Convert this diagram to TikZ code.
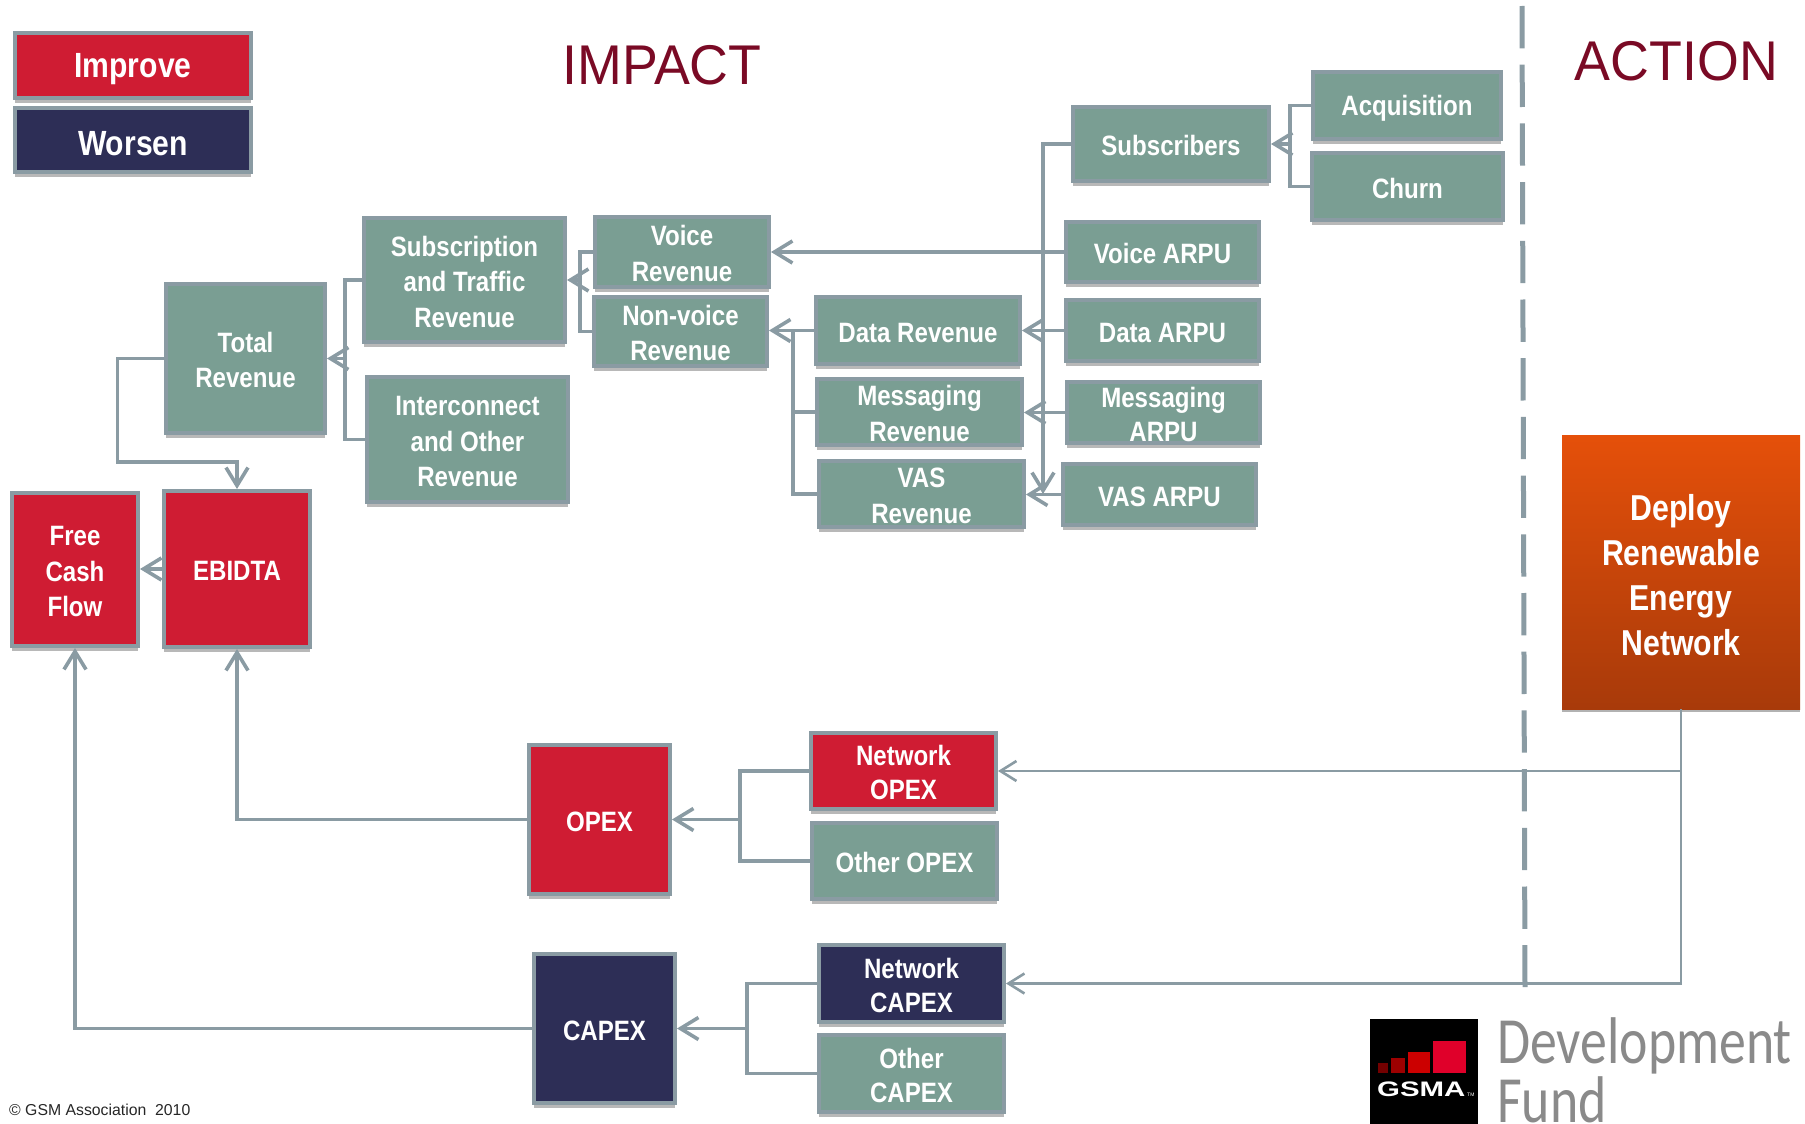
\documentclass[tikz,border=0pt]{standalone}
\usepackage{fontspec}
\setmainfont{Liberation Sans}
\newfontfamily\boxfont{Liberation Sans}[FakeStretch=0.86]
\newfontfamily\deployfont{Liberation Sans}[FakeStretch=0.84]
\newfontfamily\headfont{Liberation Sans}[FakeStretch=0.96]
\newfontfamily\gsmafont{Liberation Sans}[FakeStretch=1.4]
\newfontfamily\logofont{Carlito}[FakeStretch=0.815]
\usetikzlibrary{arrows.meta,shadows}
\definecolor{edgegrey}{HTML}{8A9BA3}
\definecolor{sage}{HTML}{7A9E93}
\definecolor{boxred}{HTML}{CF1C33}
\definecolor{boxnavy}{HTML}{2D2E56}
\definecolor{headred}{HTML}{7A0A25}
\definecolor{logogrey}{HTML}{8A8A8A}
\definecolor{deploytop}{HTML}{E5500A}
\definecolor{deploymid}{HTML}{DE4C0A}
\definecolor{deploybot}{HTML}{A83A0A}
\definecolor{gsmared}{HTML}{E0002A}
\def\boxtop{25pt}\def\boxbot{2pt}
\tikzset{
  basebox/.style={draw=edgegrey,line width=4pt,align=center,text=white,inner sep=0pt,
    font=\boxfont\bfseries\fontsize{28}{35.5}\selectfont,
    drop shadow={shadow xshift=0pt,shadow yshift=-5pt,opacity=.28,fill=black}},
  greenbox/.style={basebox,fill=sage},
  redbox/.style={basebox,fill=boxred},
  navybox/.style={basebox,fill=boxnavy},
  legendbox/.style={font=\boxfont\bfseries\fontsize{35}{40}\selectfont\def\boxtop{32pt}\def\boxbot{2pt}},
  tightbox/.style={font=\boxfont\bfseries\fontsize{28}{34}\selectfont},
  link/.style={draw=edgegrey,line width=3.6pt,line join=miter},
  arrowlink/.style={link,-{Straight Barb[length=18pt,width=22pt]}},
  thinlink/.style={draw=edgegrey,line width=2.6pt},
  thinarrow/.style={thinlink,-{Straight Barb[length=16pt,width=20pt]}},
  heading/.style={text=headred,font=\headfont\fontsize{56}{60}\selectfont,inner sep=0pt},
  logotext/.style={text=logogrey,font=\logofont\fontsize{66}{70}\selectfont,inner sep=0pt,anchor=base west},
}
\newcommand{\bx}[7]{\node[#2,minimum width={#4-#3-4},minimum height={#6-#5-4}] (#1) at ({(#3+#4)/2},{(#5+#6)/2}) {\rule{0pt}{\boxtop}\\[-\baselineskip]#7\rule[-\boxbot]{0pt}{\boxbot}};}
\begin{document}
\begin{tikzpicture}[x=1pt,y=-1pt]
\useasboundingbox (0,0) rectangle (1805,1124);

% boxes
\bx{improve}{redbox,legendbox}{13}{253}{31}{100}{Improve}
\bx{worsen}{navybox,legendbox}{13}{253}{106}{174}{Worsen}
\bx{subtraffic}{greenbox}{362}{567}{216}{344}{Subscription\\and Traffic\\Revenue}
\bx{total}{greenbox}{164}{327}{282}{435}{Total\\Revenue}
\bx{interconnect}{greenbox}{365}{570}{375}{504}{Interconnect\\and Other\\Revenue}
\bx{ebidta}{redbox}{162}{312}{489}{649}{EBIDTA}
\bx{fcf}{redbox}{10}{140}{491}{648}{Free\\Cash\\Flow}
\bx{voicerev}{greenbox}{593}{771}{215}{289}{Voice\\Revenue}
\bx{nonvoice}{greenbox}{592}{769}{295}{368}{Non-voice\\Revenue}
\bx{datarev}{greenbox}{814}{1022}{295}{366}{Data Revenue}
\bx{msgrev}{greenbox}{815}{1024}{377}{447}{Messaging\\Revenue}
\bx{vasrev}{greenbox}{817}{1026}{459}{529}{VAS\\Revenue}
\bx{subs}{greenbox}{1071}{1271}{105}{183}{Subscribers}
\bx{acq}{greenbox}{1311}{1503}{70}{141}{Acquisition}
\bx{churn}{greenbox}{1310}{1505}{151}{222}{Churn}
\bx{voicearpu}{greenbox}{1064}{1261}{220}{284}{Voice ARPU}
\bx{dataarpu}{greenbox}{1064}{1261}{298}{363}{Data ARPU}
\bx{msgarpu}{greenbox,tightbox}{1065}{1262}{380}{445}{Messaging\\ARPU}
\bx{vasarpu}{greenbox}{1061}{1258}{462}{527}{VAS ARPU}
\bx{netopex}{redbox,tightbox}{809}{998}{731}{811}{Network\\OPEX}
\bx{othopex}{greenbox}{810}{999}{821}{901}{Other OPEX}
\bx{opex}{redbox}{527}{672}{743}{896}{OPEX}
\bx{netcapex}{navybox,tightbox}{817}{1006}{943}{1024}{Network\\CAPEX}
\bx{othcapex}{greenbox,tightbox}{817}{1006}{1033}{1114}{Other\\CAPEX}
\bx{capex}{navybox}{532}{677}{952}{1105}{CAPEX}

\node[minimum width=238pt,minimum height=274pt,inner sep=0pt,align=center,text=white,
  top color=deploytop,middle color=deploymid,bottom color=deploybot,
  font=\deployfont\bfseries\fontsize{36}{45}\selectfont,
  drop shadow={shadow xshift=0pt,shadow yshift=-3pt,opacity=.3,fill=black}]
  (deploy) at (1681,572) {\rule{0pt}{44pt}\\[-\baselineskip]Deploy\\Renewable\\Energy\\Network\rule[-12pt]{0pt}{12pt}};

% headings
\node[heading] (impact) at (662,65) {IMPACT};
\node[heading] (action) at (1676.5,61) {ACTION};

% named junctions
\coordinate (brsubs) at (1290,144);
\coordinate (brtraffic) at (580,280);
\coordinate (brtotal) at (345,358.5);
\coordinate (brdata) at (793,330.5);
\coordinate (bropex) at (740,819.5);
\coordinate (brcapex) at (747,1028.5);
\coordinate (trunk) at (1043,494);
\coordinate (totbend) at (117.5,462);
\coordinate (dashtop) at (1522,6);
\coordinate (dashend) at (1525,987);

% revenue tree
\draw[link] (acq.west) -| (brsubs) |- (churn.west);
\draw[arrowlink] (brsubs) -- (subs.east);
\draw[arrowlink] (subs.west) -| (trunk);
\draw[arrowlink] (voicearpu.west) -- (voicearpu.west -| voicerev.east);
\draw[arrowlink] (dataarpu.west) -- (dataarpu.west -| datarev.east);
\draw[arrowlink] (msgarpu.west) -- (msgarpu.west -| msgrev.east);
\draw[arrowlink] (vasarpu.west) -- (vasarpu.west -| vasrev.east);
\draw[link] (voicerev.west) -| (brtraffic) |- (nonvoice.west);
\draw[arrowlink] (brtraffic) -- (subtraffic.east);
\draw[link] (msgrev.west) -- (msgrev.west -| brdata);
\draw[link] (vasrev.west) -| (brdata);
\draw[arrowlink] (datarev.west) -- (datarev.west -| nonvoice.east);
\draw[link] (subtraffic.west) -| (brtotal) |- (interconnect.west);
\draw[arrowlink] (brtotal) -- (total.east);
\draw[arrowlink] (total.west) -| (totbend) -| (ebidta.north);
\draw[arrowlink] (ebidta.west) -- (ebidta.west -| fcf.east);

% cost tree
\draw[link] (netopex.west) -| (bropex) |- (othopex.west);
\draw[arrowlink] (bropex) -- (opex.east);
\draw[link] (netcapex.west) -| (brcapex) |- (othcapex.west);
\draw[arrowlink] (brcapex) -- (capex.east);
\draw[arrowlink] (opex.west) -| (ebidta.south);
\draw[arrowlink] (capex.west) -| (fcf.south);

% action links
\draw[thinarrow] (deploy.south) |- (netopex.east);
\draw[thinarrow] (deploy.south) |- (netcapex.east);

% separator
\draw[draw=edgegrey,line width=5pt,dash pattern=on 42.3pt off 16.4pt] (dashtop) -- (dashend);

% footer
\node[anchor=base west,inner sep=0pt,font=\fontsize{15.8}{18}\selectfont,text=black!85] (copy) at (9,1115) {© GSM Association~ 2010};

% logo
\fill[black] (1370,1019) rectangle (1478,1124);
\fill[red!45!black] (1377.7,1063.3) rectangle (1387.7,1072.7);
\fill[red!62!black] (1390.7,1058.3) rectangle (1405,1072.7);
\fill[red!80!black] (1408.3,1051.7) rectangle (1430,1072.7);
\fill[gsmared] (1433.3,1040.7) rectangle (1465.7,1072.7);
\node[inner sep=0pt,anchor=base west,text=white,font=\gsmafont\bfseries\fontsize{21}{21}\selectfont] (gsma) at (1377,1096) {GSMA};
\node[inner sep=0pt,anchor=base west,text=white,font=\fontsize{5}{5}\selectfont] (tm) at (1467,1096) {TM};
\node[logotext] (dev) at (1497,1063) {Development};
\node[logotext] (fund) at (1497,1122) {Fund};
\end{tikzpicture}
\end{document}
